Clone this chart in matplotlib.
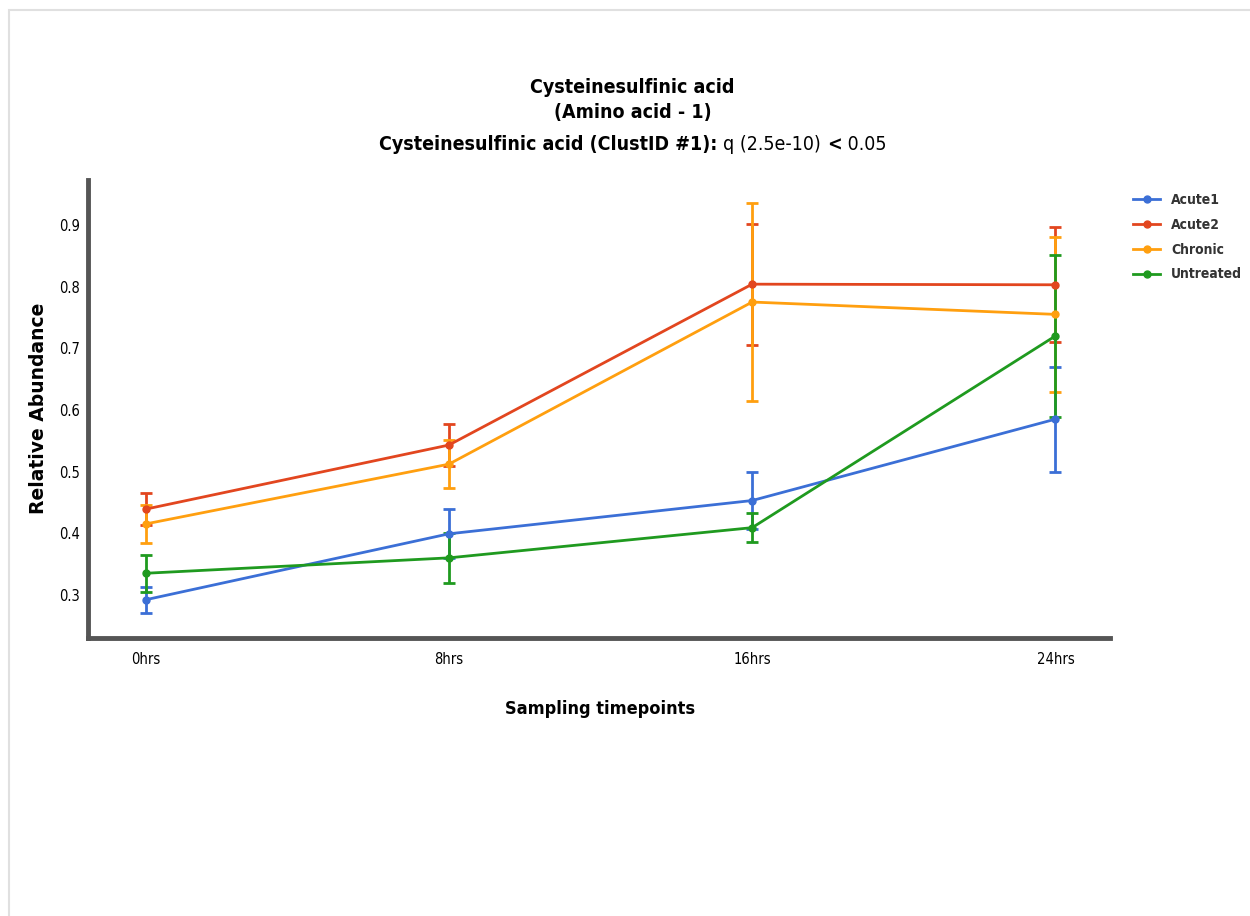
import matplotlib
matplotlib.use("Agg")
import matplotlib.pyplot as plt
from matplotlib.lines import Line2D
from matplotlib.patches import Rectangle

timepoints = ["0hrs", "8hrs", "16hrs", "24hrs"]
series_names = ["Acute1", "Acute2", "Chronic", "Untreated"]
colors = ["#3b6fd6", "#e2461f", "#ff9f0f", "#1f9a1f"]

acute1 = [0.292, 0.399, 0.453, 0.585]
acute1_err = [0.021, 0.040, 0.046, 0.085]
acute2 = [0.439, 0.543, 0.804, 0.803]
acute2_err = [0.026, 0.034, 0.098, 0.093]
chronic = [0.415, 0.512, 0.775, 0.755]
chronic_err = [0.031, 0.039, 0.160, 0.126]
untreated = [0.335, 0.360, 0.409, 0.720]
untreated_err = [0.030, 0.041, 0.023, 0.131]

values = [acute1, acute2, chronic, untreated]
errors = [acute1_err, acute2_err, chronic_err, untreated_err]

yticks = [0.3, 0.4, 0.5, 0.6, 0.7, 0.8, 0.9]

plt.rcParams['font.family'] = ['DejaVu Sans']
fig = plt.figure(figsize=(12.5, 9.16), dpi=100)
fig.patches.append(Rectangle((0.0068, -0.02), 1.1, 1.02 - 10 / 916, transform=fig.transFigure,
                             fill=False, edgecolor="#e0e0e0", linewidth=1.5))
ax = fig.add_axes([0.0704, 0.3035, 0.8176, 0.5])

x = list(range(len(timepoints)))
for name, vals, errs, c in zip(series_names, values, errors, colors):
    ax.errorbar(x, vals, yerr=errs, color=c, linewidth=2, marker="o", markersize=5,
                capsize=4, capthick=2, elinewidth=2, label=name)

ax.set_xlim(-0.19, 3.18)
ax.set_ylim(0.23, 0.973)
ax.set_xticks(x)
ax.set_xticklabels(timepoints, fontsize=10.5, fontstretch="condensed")
ax.set_yticks(yticks)
ax.set_yticklabels([f"{v:.1f}" for v in yticks], fontsize=10.5, fontstretch="condensed")
ax.tick_params(axis="x", length=0, pad=10)
ax.tick_params(axis="y", length=0, pad=6)
for s in ["top", "right"]:
    ax.spines[s].set_visible(False)
for s in ["left", "bottom"]:
    ax.spines[s].set_color("#555555")
    ax.spines[s].set_linewidth(3.5)

ax.set_xlabel("Sampling timepoints", fontsize=13, fontweight="bold", fontstretch="condensed")
ax.xaxis.set_label_coords((600 - 88) / 1022, -(700 - 638) / 458)
ax.set_ylabel("Relative Abundance", fontsize=13.5, fontweight="bold")
ax.yaxis.set_label_coords(-(88 - 48) / 1022, (638 - 408) / 458)

fig.text(0.506, 0.904, "Cysteinesulfinic acid", ha="center", va="center",
         fontsize=14, fontweight="bold", fontstretch="condensed")
fig.text(0.506, 0.877, "(Amino acid - 1)", ha="center", va="center",
         fontsize=14, fontweight="bold", fontstretch="condensed")
# third line: mixed bold / normal
fig.canvas.draw()
r = fig.canvas.get_renderer()
parts = [("Cysteinesulfinic acid (ClustID #1): ", "bold"), ("q (2.5e-10) ", "normal"),
         ("<", "bold"), (" 0.05", "normal")]
texts = []
for s, w in parts:
    tt = fig.text(0, 0.842, s, ha="left", va="center", fontsize=14, fontweight=w,
                  fontstretch="condensed")
    texts.append(tt)
widths = [tt.get_window_extent(r).width for tt in texts]
total = sum(widths)
x0 = 0.506 * fig.bbox.width - total / 2
for tt, w in zip(texts, widths):
    tt.set_x(x0 / fig.bbox.width)
    x0 += w

handles = [Line2D([0], [0], color=c, linewidth=2, marker="o", markersize=5) for c in colors]
leg = fig.legend(handles, series_names, loc="upper left", bbox_to_anchor=(1133 / 1250, 1 - 193 / 916),
                 frameon=False, fontsize=10, handlelength=1.95, labelspacing=0.78,
                 handletextpad=0.8, borderpad=0, borderaxespad=0)
for t in leg.get_texts():
    t.set_fontweight("bold")
    t.set_fontstretch("condensed")
    t.set_color("#333333")

fig.savefig("out.png", dpi=100)
